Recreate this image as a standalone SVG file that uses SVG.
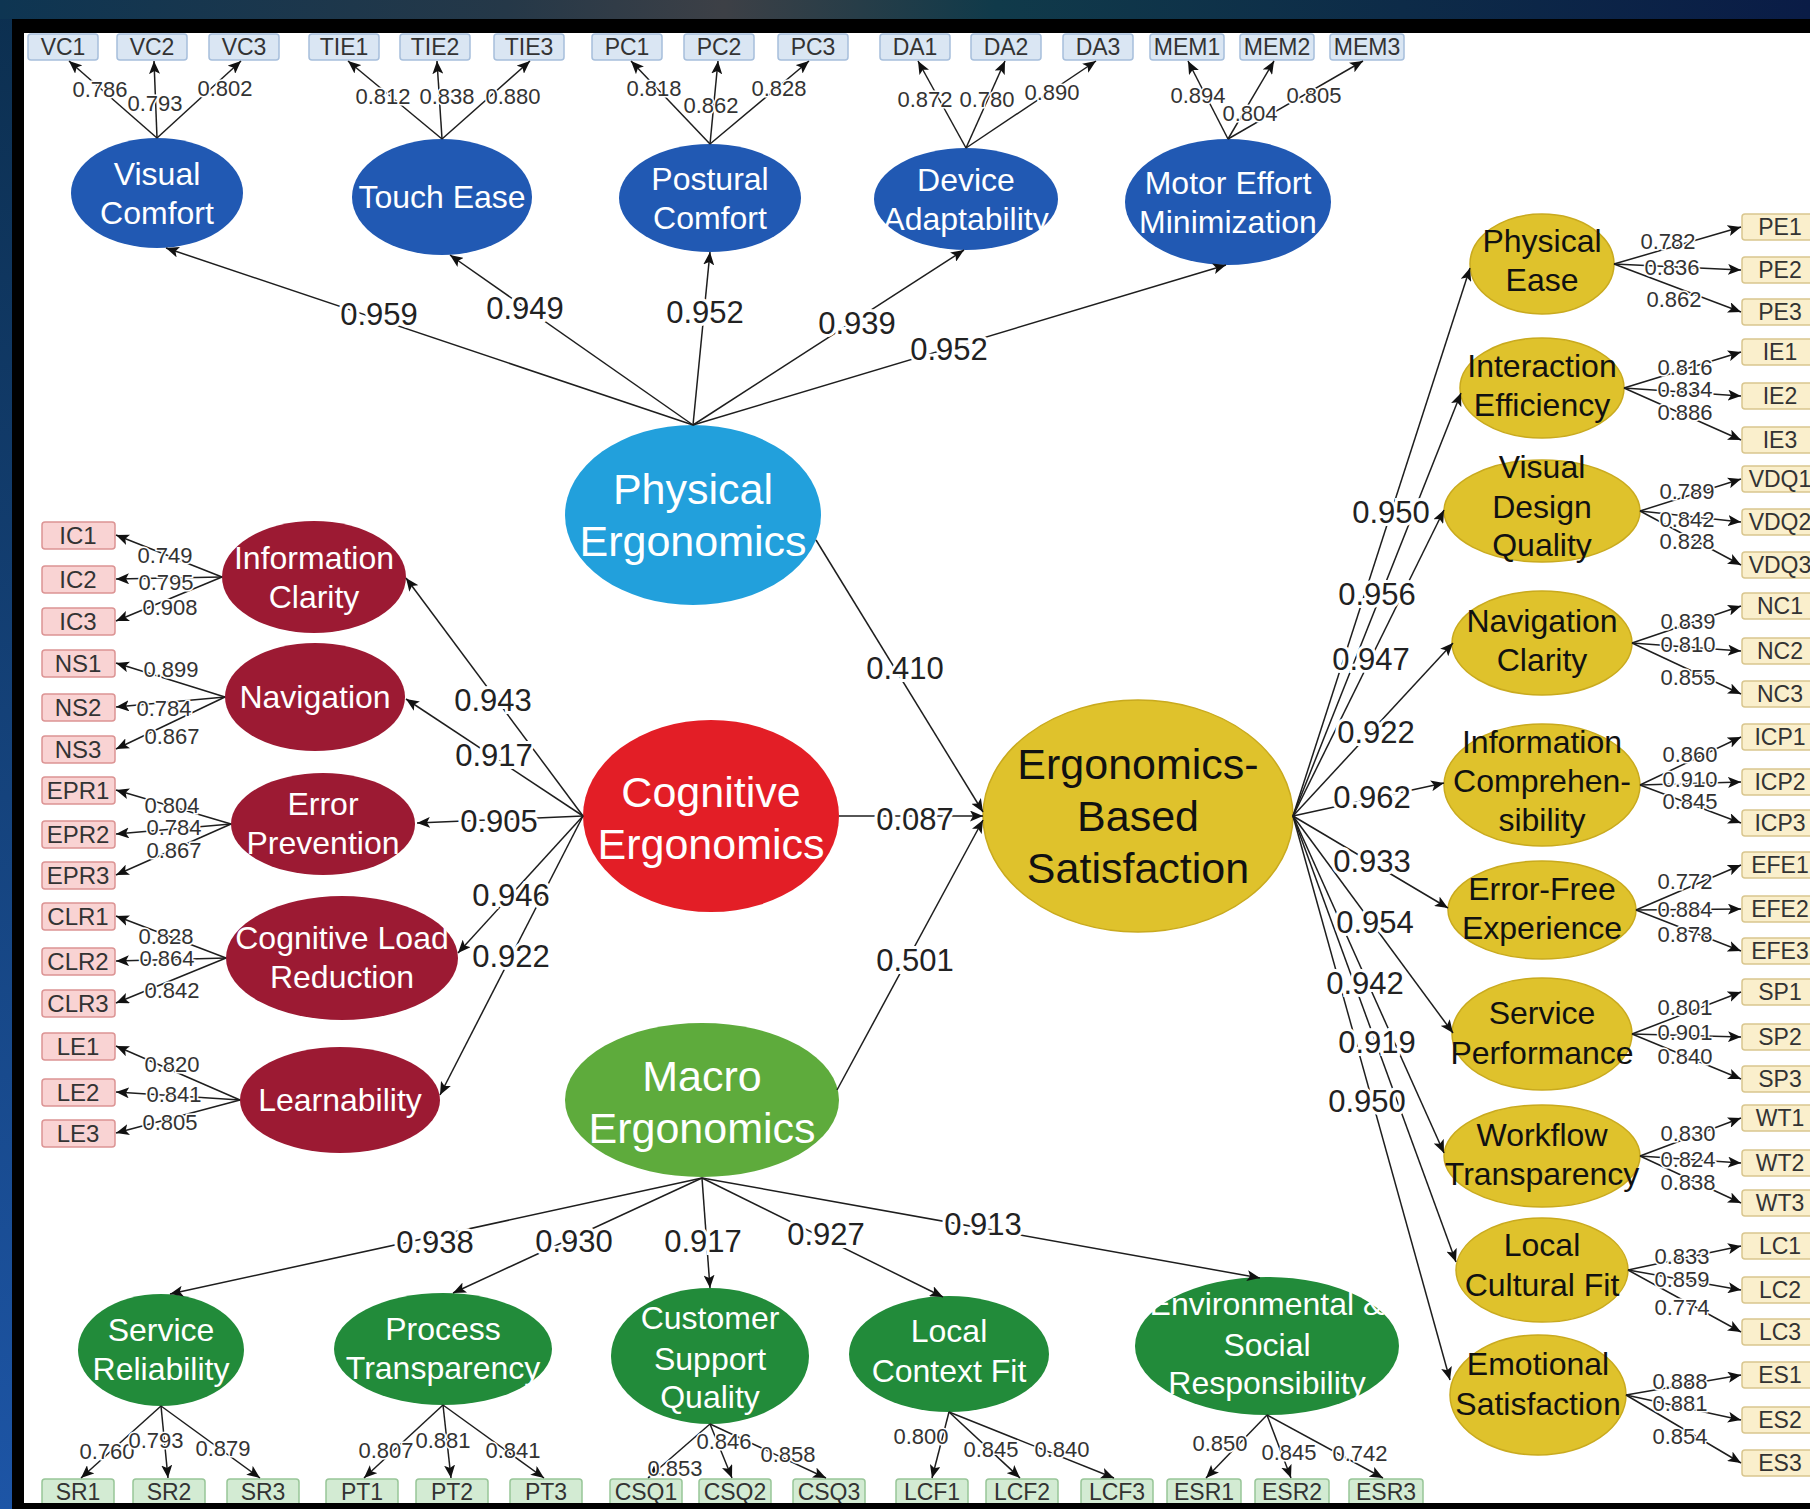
<svg xmlns="http://www.w3.org/2000/svg" width="1810" height="1509" viewBox="0 0 1810 1509">
<defs>
<linearGradient id="bg" x1="0" y1="0" x2="0" y2="1"><stop offset="0" stop-color="#0c2f4f"/><stop offset="1" stop-color="#1d55a6"/></linearGradient>
<linearGradient id="tb" x1="0" y1="0" x2="1" y2="0"><stop offset="0" stop-color="#0e3552"/><stop offset="0.28" stop-color="#253848"/><stop offset="0.4" stop-color="#3d4046"/><stop offset="0.55" stop-color="#103a4a"/><stop offset="1" stop-color="#0a1c46"/></linearGradient>
<marker id="ah" viewBox="0 0 13 11" refX="13" refY="5.5" markerWidth="13" markerHeight="11" markerUnits="userSpaceOnUse" orient="auto"><path d="M0,0 L13,5.5 L0,11 L3,5.5 z" fill="#111"/></marker>
<style>
.ln{stroke:#1e1e1e;stroke-width:1.5;fill:none;marker-end:url(#ah)}
.lb{font-family:"Liberation Sans",Arial,sans-serif;font-size:22px;fill:#333;text-anchor:middle;stroke:#fff;stroke-width:3;paint-order:stroke}
.lL{font-family:"Liberation Sans",Arial,sans-serif;font-size:31px;fill:#222;text-anchor:middle;stroke:#fff;stroke-width:6;paint-order:stroke}
.bb{fill:#dae6f3;stroke:#a7bfdc;stroke-width:1.5}
.pb{fill:#f9d3d3;stroke:#dc9494;stroke-width:1.5}
.gb{fill:#d3ebd3;stroke:#98c698;stroke-width:1.5}
.yb{fill:#faefcc;stroke:#d9c68e;stroke-width:1.5}
.it{font-family:"Liberation Sans",Arial,sans-serif;font-size:23px;fill:#333;text-anchor:middle}
.itp{font-family:"Liberation Sans",Arial,sans-serif;font-size:24px;fill:#333;text-anchor:middle}
.sw{font-family:"Liberation Sans",Arial,sans-serif;font-size:32px;fill:#fff;text-anchor:middle}
.sk{font-family:"Liberation Sans",Arial,sans-serif;font-size:32px;fill:#111;text-anchor:middle}
.bw{font-family:"Liberation Sans",Arial,sans-serif;font-size:43px;fill:#fff;text-anchor:middle}
.bk{font-family:"Liberation Sans",Arial,sans-serif;font-size:43px;fill:#111;text-anchor:middle}
.eb{fill:#2159b3}
.er{fill:#9c1a33}
.eg{fill:#228b3a}
.ey{fill:#dfc22c;stroke:#c9aa1e;stroke-width:1.5}
</style>
</defs>
<g id="background">
<rect width="1810" height="1509" fill="url(#bg)"/>
<rect width="1810" height="19" fill="url(#tb)"/>
<rect x="12" y="19" width="1798" height="1490" fill="#000"/>
<rect x="24" y="33" width="1786" height="1470" fill="#fff"/>
</g>

<!-- Indicator boxes: physical (top) -->
<g id="VC1"><rect class="bb" x="28" y="34" width="70" height="26" rx="3"/><text class="it" x="63" y="55">VC1</text></g>
<g id="VC2"><rect class="bb" x="117" y="34" width="70" height="26" rx="3"/><text class="it" x="152" y="55">VC2</text></g>
<g id="VC3"><rect class="bb" x="209" y="34" width="70" height="26" rx="3"/><text class="it" x="244" y="55">VC3</text></g>
<g id="TIE1"><rect class="bb" x="309" y="34" width="70" height="26" rx="3"/><text class="it" x="344" y="55">TIE1</text></g>
<g id="TIE2"><rect class="bb" x="400" y="34" width="70" height="26" rx="3"/><text class="it" x="435" y="55">TIE2</text></g>
<g id="TIE3"><rect class="bb" x="494" y="34" width="70" height="26" rx="3"/><text class="it" x="529" y="55">TIE3</text></g>
<g id="PC1"><rect class="bb" x="592" y="34" width="70" height="26" rx="3"/><text class="it" x="627" y="55">PC1</text></g>
<g id="PC2"><rect class="bb" x="684" y="34" width="70" height="26" rx="3"/><text class="it" x="719" y="55">PC2</text></g>
<g id="PC3"><rect class="bb" x="778" y="34" width="70" height="26" rx="3"/><text class="it" x="813" y="55">PC3</text></g>
<g id="DA1"><rect class="bb" x="880" y="34" width="70" height="26" rx="3"/><text class="it" x="915" y="55">DA1</text></g>
<g id="DA2"><rect class="bb" x="971" y="34" width="70" height="26" rx="3"/><text class="it" x="1006" y="55">DA2</text></g>
<g id="DA3"><rect class="bb" x="1063" y="34" width="70" height="26" rx="3"/><text class="it" x="1098" y="55">DA3</text></g>
<g id="MEM1"><rect class="bb" x="1150" y="34" width="74" height="26" rx="3"/><text class="it" x="1187" y="55">MEM1</text></g>
<g id="MEM2"><rect class="bb" x="1240" y="34" width="74" height="26" rx="3"/><text class="it" x="1277" y="55">MEM2</text></g>
<g id="MEM3"><rect class="bb" x="1330" y="34" width="74" height="26" rx="3"/><text class="it" x="1367" y="55">MEM3</text></g>

<!-- Physical sub-constructs -->
<g id="visual-comfort"><ellipse class="eb" cx="157" cy="193" rx="86" ry="55"/><text class="sw" x="157" y="185">Visual</text><text class="sw" x="157" y="224">Comfort</text></g>
<g id="touch-ease"><ellipse class="eb" cx="442" cy="197" rx="90" ry="58"/><text class="sw" x="442" y="208">Touch Ease</text></g>
<g id="postural-comfort"><ellipse class="eb" cx="710" cy="198" rx="91" ry="54"/><text class="sw" x="710" y="190">Postural</text><text class="sw" x="710" y="229">Comfort</text></g>
<g id="device-adaptability"><ellipse class="eb" cx="966" cy="199" rx="92" ry="51"/><text class="sw" x="966" y="191">Device</text><text class="sw" x="966" y="230">Adaptability</text></g>
<g id="motor-effort"><ellipse class="eb" cx="1228" cy="202" rx="103" ry="63"/><text class="sw" x="1228" y="194">Motor Effort</text><text class="sw" x="1228" y="233">Minimization</text></g>

<!-- Main constructs -->
<g id="physical-ergonomics"><ellipse cx="693" cy="515" rx="128" ry="90" fill="#22a0dc"/><text class="bw" x="693" y="504">Physical</text><text class="bw" x="693" y="556">Ergonomics</text></g>
<g id="cognitive-ergonomics"><ellipse cx="711" cy="816" rx="128" ry="96" fill="#e31e26"/><text class="bw" x="711" y="807">Cognitive</text><text class="bw" x="711" y="859">Ergonomics</text></g>
<g id="macro-ergonomics"><ellipse cx="702" cy="1100" rx="137" ry="77" fill="#5eab3c"/><text class="bw" x="702" y="1091">Macro</text><text class="bw" x="702" y="1143">Ergonomics</text></g>
<g id="ergonomics-based-satisfaction"><ellipse class="ey" cx="1138" cy="816" rx="155" ry="116"/><text class="bk" x="1138" y="779">Ergonomics-</text><text class="bk" x="1138" y="831">Based</text><text class="bk" x="1138" y="883">Satisfaction</text></g>

<!-- Cognitive sub-constructs -->
<g id="information-clarity"><ellipse class="er" cx="314" cy="577" rx="92" ry="56"/><text class="sw" x="314" y="569">Information</text><text class="sw" x="314" y="608">Clarity</text></g>
<g id="navigation"><ellipse class="er" cx="315" cy="697" rx="90" ry="54"/><text class="sw" x="315" y="708">Navigation</text></g>
<g id="error-prevention"><ellipse class="er" cx="323" cy="824" rx="92" ry="51"/><text class="sw" x="323" y="815">Error</text><text class="sw" x="323" y="854">Prevention</text></g>
<g id="cognitive-load-reduction"><ellipse class="er" cx="342" cy="958" rx="116" ry="62"/><text class="sw" x="342" y="949">Cognitive Load</text><text class="sw" x="342" y="988">Reduction</text></g>
<g id="learnability"><ellipse class="er" cx="340" cy="1100" rx="100" ry="53"/><text class="sw" x="340" y="1111">Learnability</text></g>

<!-- Cognitive indicators -->
<g id="IC1"><rect class="pb" x="42" y="522" width="73" height="27" rx="3"/><text class="itp" x="78" y="544">IC1</text></g>
<g id="IC2"><rect class="pb" x="42" y="566" width="73" height="27" rx="3"/><text class="itp" x="78" y="588">IC2</text></g>
<g id="IC3"><rect class="pb" x="42" y="608" width="73" height="27" rx="3"/><text class="itp" x="78" y="630">IC3</text></g>
<g id="NS1"><rect class="pb" x="42" y="650" width="73" height="27" rx="3"/><text class="itp" x="78" y="672">NS1</text></g>
<g id="NS2"><rect class="pb" x="42" y="694" width="73" height="27" rx="3"/><text class="itp" x="78" y="716">NS2</text></g>
<g id="NS3"><rect class="pb" x="42" y="736" width="73" height="27" rx="3"/><text class="itp" x="78" y="758">NS3</text></g>
<g id="EPR1"><rect class="pb" x="42" y="777" width="73" height="27" rx="3"/><text class="itp" x="78" y="799">EPR1</text></g>
<g id="EPR2"><rect class="pb" x="42" y="821" width="73" height="27" rx="3"/><text class="itp" x="78" y="843">EPR2</text></g>
<g id="EPR3"><rect class="pb" x="42" y="862" width="73" height="27" rx="3"/><text class="itp" x="78" y="884">EPR3</text></g>
<g id="CLR1"><rect class="pb" x="42" y="903" width="73" height="27" rx="3"/><text class="itp" x="78" y="925">CLR1</text></g>
<g id="CLR2"><rect class="pb" x="42" y="948" width="73" height="27" rx="3"/><text class="itp" x="78" y="970">CLR2</text></g>
<g id="CLR3"><rect class="pb" x="42" y="990" width="73" height="27" rx="3"/><text class="itp" x="78" y="1012">CLR3</text></g>
<g id="LE1"><rect class="pb" x="42" y="1033" width="73" height="27" rx="3"/><text class="itp" x="78" y="1055">LE1</text></g>
<g id="LE2"><rect class="pb" x="42" y="1079" width="73" height="27" rx="3"/><text class="itp" x="78" y="1101">LE2</text></g>
<g id="LE3"><rect class="pb" x="42" y="1120" width="73" height="27" rx="3"/><text class="itp" x="78" y="1142">LE3</text></g>

<!-- Macro sub-constructs -->
<g id="service-reliability"><ellipse class="eg" cx="161" cy="1350" rx="83" ry="56"/><text class="sw" x="161" y="1341">Service</text><text class="sw" x="161" y="1380">Reliability</text></g>
<g id="process-transparency"><ellipse class="eg" cx="443" cy="1349" rx="109" ry="56"/><text class="sw" x="443" y="1340">Process</text><text class="sw" x="443" y="1379">Transparency</text></g>
<g id="customer-support-quality"><ellipse class="eg" cx="710" cy="1356" rx="99" ry="68"/><text class="sw" x="710" y="1329">Customer</text><text class="sw" x="710" y="1370">Support</text><text class="sw" x="710" y="1408">Quality</text></g>
<g id="local-context-fit"><ellipse class="eg" cx="949" cy="1354" rx="100" ry="58"/><text class="sw" x="949" y="1342">Local</text><text class="sw" x="949" y="1382">Context Fit</text></g>
<g id="environmental-social-responsibility"><ellipse class="eg" cx="1267" cy="1346" rx="132" ry="69"/><text class="sw" x="1267" y="1315">Environmental &amp;</text><text class="sw" x="1267" y="1356">Social</text><text class="sw" x="1267" y="1394">Responsibility</text></g>

<!-- Macro indicators -->
<g id="SR1"><rect class="gb" x="42" y="1479" width="72" height="27" rx="3"/><text class="it" x="78" y="1500">SR1</text></g>
<g id="SR2"><rect class="gb" x="133" y="1479" width="72" height="27" rx="3"/><text class="it" x="169" y="1500">SR2</text></g>
<g id="SR3"><rect class="gb" x="227" y="1479" width="72" height="27" rx="3"/><text class="it" x="263" y="1500">SR3</text></g>
<g id="PT1"><rect class="gb" x="326" y="1479" width="72" height="27" rx="3"/><text class="it" x="362" y="1500">PT1</text></g>
<g id="PT2"><rect class="gb" x="416" y="1479" width="72" height="27" rx="3"/><text class="it" x="452" y="1500">PT2</text></g>
<g id="PT3"><rect class="gb" x="510" y="1479" width="72" height="27" rx="3"/><text class="it" x="546" y="1500">PT3</text></g>
<g id="CSQ1"><rect class="gb" x="610" y="1479" width="72" height="27" rx="3"/><text class="it" x="646" y="1500">CSQ1</text></g>
<g id="CSQ2"><rect class="gb" x="699" y="1479" width="72" height="27" rx="3"/><text class="it" x="735" y="1500">CSQ2</text></g>
<g id="CSQ3"><rect class="gb" x="793" y="1479" width="72" height="27" rx="3"/><text class="it" x="829" y="1500">CSQ3</text></g>
<g id="LCF1"><rect class="gb" x="896" y="1479" width="72" height="27" rx="3"/><text class="it" x="932" y="1500">LCF1</text></g>
<g id="LCF2"><rect class="gb" x="986" y="1479" width="72" height="27" rx="3"/><text class="it" x="1022" y="1500">LCF2</text></g>
<g id="LCF3"><rect class="gb" x="1081" y="1479" width="72" height="27" rx="3"/><text class="it" x="1117" y="1500">LCF3</text></g>
<g id="ESR1"><rect class="gb" x="1167" y="1479" width="74" height="27" rx="3"/><text class="it" x="1204" y="1500">ESR1</text></g>
<g id="ESR2"><rect class="gb" x="1255" y="1479" width="74" height="27" rx="3"/><text class="it" x="1292" y="1500">ESR2</text></g>
<g id="ESR3"><rect class="gb" x="1349" y="1479" width="74" height="27" rx="3"/><text class="it" x="1386" y="1500">ESR3</text></g>

<!-- Satisfaction sub-constructs -->
<g id="physical-ease"><ellipse class="ey" cx="1542" cy="264" rx="72" ry="50"/><text class="sk" x="1542" y="252">Physical</text><text class="sk" x="1542" y="291">Ease</text></g>
<g id="interaction-efficiency"><ellipse class="ey" cx="1542" cy="388" rx="82" ry="50"/><text class="sk" x="1542" y="377">Interaction</text><text class="sk" x="1542" y="416">Efficiency</text></g>
<g id="visual-design-quality"><ellipse class="ey" cx="1542" cy="511" rx="98" ry="51"/><text class="sk" x="1542" y="478">Visual</text><text class="sk" x="1542" y="518">Design</text><text class="sk" x="1542" y="556">Quality</text></g>
<g id="navigation-clarity"><ellipse class="ey" cx="1542" cy="643" rx="90" ry="52"/><text class="sk" x="1542" y="632">Navigation</text><text class="sk" x="1542" y="671">Clarity</text></g>
<g id="information-comprehensibility"><ellipse class="ey" cx="1542" cy="785" rx="98" ry="61"/><text class="sk" x="1542" y="753">Information</text><text class="sk" x="1542" y="792">Comprehen-</text><text class="sk" x="1542" y="831">sibility</text></g>
<g id="error-free-experience"><ellipse class="ey" cx="1542" cy="910" rx="94" ry="49"/><text class="sk" x="1542" y="900">Error-Free</text><text class="sk" x="1542" y="939">Experience</text></g>
<g id="service-performance"><ellipse class="ey" cx="1542" cy="1034" rx="90" ry="56"/><text class="sk" x="1542" y="1024">Service</text><text class="sk" x="1542" y="1064">Performance</text></g>
<g id="workflow-transparency"><ellipse class="ey" cx="1542" cy="1156" rx="98" ry="51"/><text class="sk" x="1542" y="1146">Workflow</text><text class="sk" x="1542" y="1185">Transparency</text></g>
<g id="local-cultural-fit"><ellipse class="ey" cx="1542" cy="1270" rx="86" ry="52"/><text class="sk" x="1542" y="1256">Local</text><text class="sk" x="1542" y="1296">Cultural Fit</text></g>
<g id="emotional-satisfaction"><ellipse class="ey" cx="1538" cy="1395" rx="88" ry="60"/><text class="sk" x="1538" y="1375">Emotional</text><text class="sk" x="1538" y="1415">Satisfaction</text></g>

<!-- Satisfaction indicators -->
<g id="PE1"><rect class="yb" x="1742" y="214" width="80" height="26" rx="3"/><text class="it" x="1780" y="235">PE1</text></g>
<g id="PE2"><rect class="yb" x="1742" y="257" width="80" height="26" rx="3"/><text class="it" x="1780" y="278">PE2</text></g>
<g id="PE3"><rect class="yb" x="1742" y="299" width="80" height="26" rx="3"/><text class="it" x="1780" y="320">PE3</text></g>
<g id="IE1"><rect class="yb" x="1742" y="339" width="80" height="26" rx="3"/><text class="it" x="1780" y="360">IE1</text></g>
<g id="IE2"><rect class="yb" x="1742" y="383" width="80" height="26" rx="3"/><text class="it" x="1780" y="404">IE2</text></g>
<g id="IE3"><rect class="yb" x="1742" y="427" width="80" height="26" rx="3"/><text class="it" x="1780" y="448">IE3</text></g>
<g id="VDQ1"><rect class="yb" x="1742" y="466" width="80" height="26" rx="3"/><text class="it" x="1780" y="487">VDQ1</text></g>
<g id="VDQ2"><rect class="yb" x="1742" y="509" width="80" height="26" rx="3"/><text class="it" x="1780" y="530">VDQ2</text></g>
<g id="VDQ3"><rect class="yb" x="1742" y="552" width="80" height="26" rx="3"/><text class="it" x="1780" y="573">VDQ3</text></g>
<g id="NC1"><rect class="yb" x="1742" y="593" width="80" height="26" rx="3"/><text class="it" x="1780" y="614">NC1</text></g>
<g id="NC2"><rect class="yb" x="1742" y="638" width="80" height="26" rx="3"/><text class="it" x="1780" y="659">NC2</text></g>
<g id="NC3"><rect class="yb" x="1742" y="681" width="80" height="26" rx="3"/><text class="it" x="1780" y="702">NC3</text></g>
<g id="ICP1"><rect class="yb" x="1742" y="724" width="80" height="26" rx="3"/><text class="it" x="1780" y="745">ICP1</text></g>
<g id="ICP2"><rect class="yb" x="1742" y="769" width="80" height="26" rx="3"/><text class="it" x="1780" y="790">ICP2</text></g>
<g id="ICP3"><rect class="yb" x="1742" y="810" width="80" height="26" rx="3"/><text class="it" x="1780" y="831">ICP3</text></g>
<g id="EFE1"><rect class="yb" x="1742" y="852" width="80" height="26" rx="3"/><text class="it" x="1780" y="873">EFE1</text></g>
<g id="EFE2"><rect class="yb" x="1742" y="896" width="80" height="26" rx="3"/><text class="it" x="1780" y="917">EFE2</text></g>
<g id="EFE3"><rect class="yb" x="1742" y="938" width="80" height="26" rx="3"/><text class="it" x="1780" y="959">EFE3</text></g>
<g id="SP1"><rect class="yb" x="1742" y="979" width="80" height="26" rx="3"/><text class="it" x="1780" y="1000">SP1</text></g>
<g id="SP2"><rect class="yb" x="1742" y="1024" width="80" height="26" rx="3"/><text class="it" x="1780" y="1045">SP2</text></g>
<g id="SP3"><rect class="yb" x="1742" y="1066" width="80" height="26" rx="3"/><text class="it" x="1780" y="1087">SP3</text></g>
<g id="WT1"><rect class="yb" x="1742" y="1105" width="80" height="26" rx="3"/><text class="it" x="1780" y="1126">WT1</text></g>
<g id="WT2"><rect class="yb" x="1742" y="1150" width="80" height="26" rx="3"/><text class="it" x="1780" y="1171">WT2</text></g>
<g id="WT3"><rect class="yb" x="1742" y="1190" width="80" height="26" rx="3"/><text class="it" x="1780" y="1211">WT3</text></g>
<g id="LC1"><rect class="yb" x="1742" y="1233" width="80" height="26" rx="3"/><text class="it" x="1780" y="1254">LC1</text></g>
<g id="LC2"><rect class="yb" x="1742" y="1277" width="80" height="26" rx="3"/><text class="it" x="1780" y="1298">LC2</text></g>
<g id="LC3"><rect class="yb" x="1742" y="1319" width="80" height="26" rx="3"/><text class="it" x="1780" y="1340">LC3</text></g>
<g id="ES1"><rect class="yb" x="1742" y="1362" width="80" height="26" rx="3"/><text class="it" x="1780" y="1383">ES1</text></g>
<g id="ES2"><rect class="yb" x="1742" y="1407" width="80" height="26" rx="3"/><text class="it" x="1780" y="1428">ES2</text></g>
<g id="ES3"><rect class="yb" x="1742" y="1450" width="80" height="26" rx="3"/><text class="it" x="1780" y="1471">ES3</text></g>

<g id="connectors">
<!-- physical loadings -->
<path class="ln" d="M157,138 L69,61"/><path class="ln" d="M157,138 L154,61"/><path class="ln" d="M157,138 L241,61"/>
<path class="ln" d="M442,139 L348,61"/><path class="ln" d="M442,139 L437,61"/><path class="ln" d="M442,139 L530,61"/>
<path class="ln" d="M710,144 L631,61"/><path class="ln" d="M710,144 L718,61"/><path class="ln" d="M710,144 L809,61"/>
<path class="ln" d="M966,148 L918,61"/><path class="ln" d="M966,148 L1005,61"/><path class="ln" d="M966,148 L1096,61"/>
<path class="ln" d="M1228,139 L1188,61"/><path class="ln" d="M1228,139 L1274,61"/><path class="ln" d="M1228,139 L1363,61"/>
<text class="lb" x="100" y="97">0.786</text><text class="lb" x="155" y="111">0.793</text><text class="lb" x="225" y="96">0.802</text>
<text class="lb" x="383" y="104">0.812</text><text class="lb" x="447" y="104">0.838</text><text class="lb" x="513" y="104">0.880</text>
<text class="lb" x="654" y="96">0.818</text><text class="lb" x="711" y="113">0.862</text><text class="lb" x="779" y="96">0.828</text>
<text class="lb" x="925" y="107">0.872</text><text class="lb" x="987" y="107">0.780</text><text class="lb" x="1052" y="100">0.890</text>
<text class="lb" x="1198" y="103">0.894</text><text class="lb" x="1250" y="121">0.804</text><text class="lb" x="1314" y="103">0.805</text>
<!-- physical ergonomics to subs -->
<path class="ln" d="M693,425 L166,248"/><path class="ln" d="M693,425 L450,255"/><path class="ln" d="M693,425 L710,252"/><path class="ln" d="M693,425 L964,250"/><path class="ln" d="M693,425 L1226,265"/>
<text class="lL" x="379" y="325">0.959</text><text class="lL" x="525" y="319">0.949</text><text class="lL" x="705" y="323">0.952</text><text class="lL" x="857" y="334">0.939</text><text class="lL" x="949" y="360">0.952</text>
<!-- structural paths -->
<path class="ln" d="M816,540 L983,812"/><path class="ln" d="M839,816 L983,816"/><path class="ln" d="M837,1090 L983,820"/>
<text class="lL" x="905" y="679">0.410</text><text class="lL" x="915" y="830">0.087</text><text class="lL" x="915" y="971">0.501</text>
<!-- cognitive to subs -->
<path class="ln" d="M583,816 L406,578"/><path class="ln" d="M583,816 L406,699"/><path class="ln" d="M583,816 L417,823"/><path class="ln" d="M583,816 L458,953"/><path class="ln" d="M583,816 L440,1095"/>
<text class="lL" x="493" y="711">0.943</text><text class="lL" x="494" y="766">0.917</text><text class="lL" x="499" y="832">0.905</text><text class="lL" x="511" y="906">0.946</text><text class="lL" x="511" y="967">0.922</text>
<!-- cognitive loadings -->
<path class="ln" d="M222,577 L116,535"/><path class="ln" d="M222,577 L116,579"/><path class="ln" d="M222,577 L116,621"/>
<path class="ln" d="M225,697 L116,663"/><path class="ln" d="M225,697 L116,707"/><path class="ln" d="M225,697 L116,749"/>
<path class="ln" d="M231,824 L116,790"/><path class="ln" d="M231,824 L116,834"/><path class="ln" d="M231,824 L116,875"/>
<path class="ln" d="M226,958 L116,916"/><path class="ln" d="M226,958 L116,961"/><path class="ln" d="M226,958 L116,1003"/>
<path class="ln" d="M240,1100 L116,1046"/><path class="ln" d="M240,1100 L116,1092"/><path class="ln" d="M240,1100 L116,1133"/>
<text class="lb" x="165" y="563">0.749</text><text class="lb" x="166" y="590">0.795</text><text class="lb" x="170" y="615">0.908</text>
<text class="lb" x="171" y="677">0.899</text><text class="lb" x="164" y="716">0.784</text><text class="lb" x="172" y="744">0.867</text>
<text class="lb" x="172" y="813">0.804</text><text class="lb" x="174" y="835">0.784</text><text class="lb" x="174" y="858">0.867</text>
<text class="lb" x="166" y="944">0.828</text><text class="lb" x="167" y="966">0.864</text><text class="lb" x="172" y="998">0.842</text>
<text class="lb" x="172" y="1072">0.820</text><text class="lb" x="174" y="1102">0.841</text><text class="lb" x="170" y="1130">0.805</text>
<!-- macro to subs -->
<path class="ln" d="M702,1178 L170,1294"/><path class="ln" d="M702,1178 L453,1293"/><path class="ln" d="M702,1178 L710,1288"/><path class="ln" d="M702,1178 L943,1297"/><path class="ln" d="M702,1178 L1260,1278"/>
<text class="lL" x="435" y="1253">0.938</text><text class="lL" x="574" y="1252">0.930</text><text class="lL" x="703" y="1252">0.917</text><text class="lL" x="826" y="1245">0.927</text><text class="lL" x="983" y="1235">0.913</text>
<!-- macro loadings -->
<path class="ln" d="M161,1406 L81,1478"/><path class="ln" d="M161,1406 L168,1478"/><path class="ln" d="M161,1406 L260,1478"/>
<path class="ln" d="M443,1405 L364,1478"/><path class="ln" d="M443,1405 L451,1478"/><path class="ln" d="M443,1405 L544,1478"/>
<path class="ln" d="M710,1424 L648,1478"/><path class="ln" d="M710,1424 L732,1478"/><path class="ln" d="M710,1424 L826,1478"/>
<path class="ln" d="M949,1412 L932,1478"/><path class="ln" d="M949,1412 L1020,1478"/><path class="ln" d="M949,1412 L1114,1478"/>
<path class="ln" d="M1267,1415 L1206,1478"/><path class="ln" d="M1267,1415 L1291,1478"/><path class="ln" d="M1267,1415 L1383,1478"/>
<text class="lb" x="107" y="1459">0.760</text><text class="lb" x="156" y="1448">0.793</text><text class="lb" x="223" y="1456">0.879</text>
<text class="lb" x="386" y="1458">0.807</text><text class="lb" x="443" y="1448">0.881</text><text class="lb" x="513" y="1458">0.841</text>
<text class="lb" x="675" y="1476">0.853</text><text class="lb" x="724" y="1449">0.846</text><text class="lb" x="788" y="1462">0.858</text>
<text class="lb" x="921" y="1444">0.800</text><text class="lb" x="991" y="1457">0.845</text><text class="lb" x="1062" y="1457">0.840</text>
<text class="lb" x="1220" y="1451">0.850</text><text class="lb" x="1289" y="1460">0.845</text><text class="lb" x="1360" y="1461">0.742</text>
<!-- satisfaction to subs -->
<path class="ln" d="M1293,816 L1470,268"/><path class="ln" d="M1293,816 L1461,393"/><path class="ln" d="M1293,816 L1444,510"/><path class="ln" d="M1293,816 L1453,643"/><path class="ln" d="M1293,816 L1444,783"/>
<path class="ln" d="M1293,816 L1448,908"/><path class="ln" d="M1293,816 L1453,1033"/><path class="ln" d="M1293,816 L1444,1153"/><path class="ln" d="M1293,816 L1456,1262"/><path class="ln" d="M1293,816 L1450,1380"/>
<text class="lL" x="1391" y="523">0.950</text><text class="lL" x="1377" y="605">0.956</text><text class="lL" x="1371" y="670">0.947</text><text class="lL" x="1376" y="743">0.922</text><text class="lL" x="1372" y="808">0.962</text>
<text class="lL" x="1372" y="872">0.933</text><text class="lL" x="1375" y="933">0.954</text><text class="lL" x="1365" y="994">0.942</text><text class="lL" x="1377" y="1053">0.919</text><text class="lL" x="1367" y="1112">0.950</text>
<!-- satisfaction loadings -->
<path class="ln" d="M1614,264 L1741,227"/><path class="ln" d="M1614,264 L1741,270"/><path class="ln" d="M1614,264 L1741,312"/>
<path class="ln" d="M1624,388 L1741,352"/><path class="ln" d="M1624,388 L1741,396"/><path class="ln" d="M1624,388 L1741,440"/>
<path class="ln" d="M1640,511 L1741,479"/><path class="ln" d="M1640,511 L1741,522"/><path class="ln" d="M1640,511 L1741,565"/>
<path class="ln" d="M1632,643 L1741,606"/><path class="ln" d="M1632,643 L1741,651"/><path class="ln" d="M1632,643 L1741,694"/>
<path class="ln" d="M1640,785 L1741,737"/><path class="ln" d="M1640,785 L1741,782"/><path class="ln" d="M1640,785 L1741,823"/>
<path class="ln" d="M1636,910 L1741,865"/><path class="ln" d="M1636,910 L1741,909"/><path class="ln" d="M1636,910 L1741,951"/>
<path class="ln" d="M1632,1034 L1741,992"/><path class="ln" d="M1632,1034 L1741,1037"/><path class="ln" d="M1632,1034 L1741,1079"/>
<path class="ln" d="M1640,1156 L1741,1118"/><path class="ln" d="M1640,1156 L1741,1163"/><path class="ln" d="M1640,1156 L1741,1203"/>
<path class="ln" d="M1628,1270 L1741,1246"/><path class="ln" d="M1628,1270 L1741,1290"/><path class="ln" d="M1628,1270 L1741,1332"/>
<path class="ln" d="M1626,1395 L1741,1375"/><path class="ln" d="M1626,1395 L1741,1420"/><path class="ln" d="M1626,1395 L1741,1463"/>
<text class="lb" x="1668" y="249">0.782</text><text class="lb" x="1672" y="275">0.836</text><text class="lb" x="1674" y="307">0.862</text>
<text class="lb" x="1685" y="375">0.816</text><text class="lb" x="1685" y="397">0.834</text><text class="lb" x="1685" y="420">0.886</text>
<text class="lb" x="1687" y="499">0.789</text><text class="lb" x="1687" y="527">0.842</text><text class="lb" x="1687" y="549">0.828</text>
<text class="lb" x="1688" y="629">0.839</text><text class="lb" x="1688" y="652">0.810</text><text class="lb" x="1688" y="685">0.855</text>
<text class="lb" x="1690" y="762">0.860</text><text class="lb" x="1690" y="787">0.910</text><text class="lb" x="1690" y="809">0.845</text>
<text class="lb" x="1685" y="889">0.772</text><text class="lb" x="1685" y="917">0.884</text><text class="lb" x="1685" y="942">0.878</text>
<text class="lb" x="1685" y="1015">0.801</text><text class="lb" x="1685" y="1040">0.901</text><text class="lb" x="1685" y="1064">0.840</text>
<text class="lb" x="1688" y="1141">0.830</text><text class="lb" x="1688" y="1167">0.824</text><text class="lb" x="1688" y="1190">0.838</text>
<text class="lb" x="1682" y="1264">0.833</text><text class="lb" x="1682" y="1287">0.859</text><text class="lb" x="1682" y="1315">0.774</text>
<text class="lb" x="1680" y="1389">0.888</text><text class="lb" x="1680" y="1411">0.881</text><text class="lb" x="1680" y="1444">0.854</text>
</g>
<rect x="12" y="1503" width="1798" height="6" fill="#000"/>
</svg>
